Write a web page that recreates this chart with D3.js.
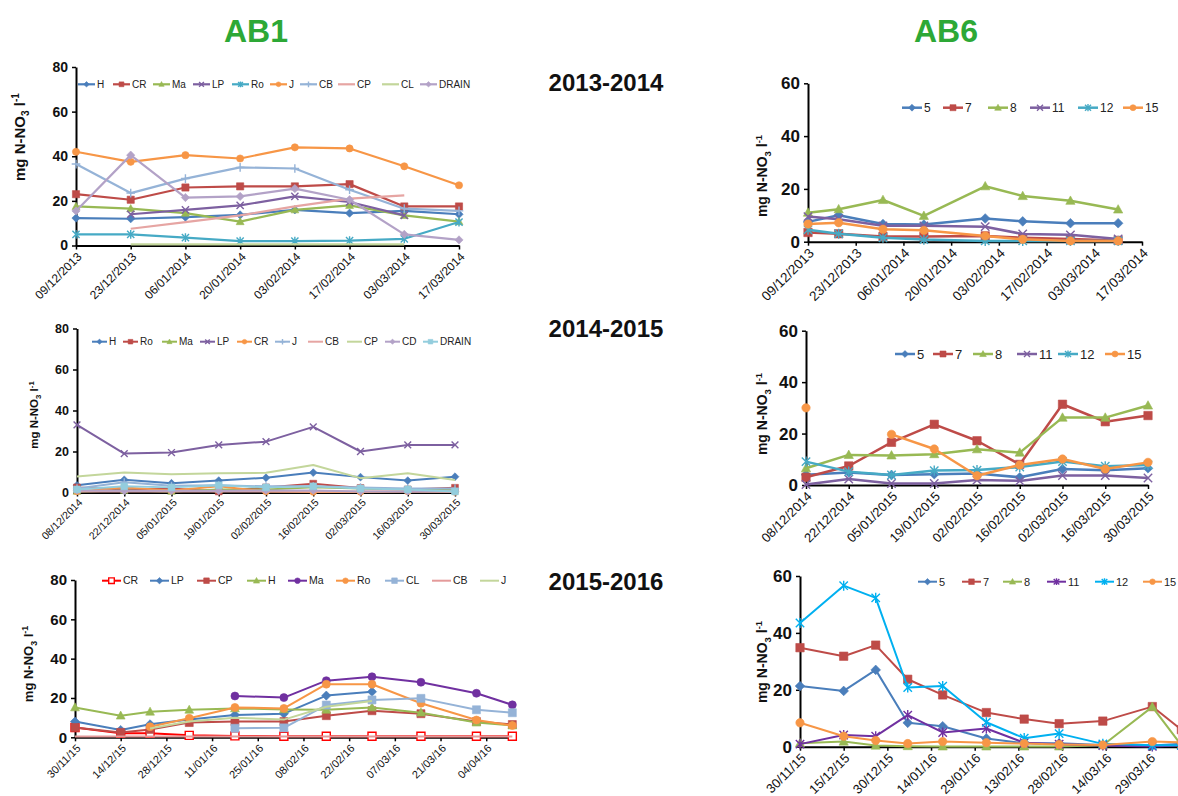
<!DOCTYPE html>
<html><head><meta charset="utf-8">
<script src="https://cdn.jsdelivr.net/npm/d3@7"></script>
<style>
html,body{margin:0;padding:0;background:#fff;}
svg{display:block;}
</style></head><body>
<svg id="chart" width="1178" height="796"></svg>
<script>
// ---------- AB1 2013-2014 ----------
const ab1a_ticks = ["09/12/2013","23/12/2013","06/01/2014","20/01/2014","03/02/2014","17/02/2014","03/03/2014","17/03/2014"];
const ab1a_dates = ["09/12/2013","23/12/2013","06/01/2014","20/01/2014","03/02/2014","17/02/2014","03/03/2014","17/03/2014"];
const ab1a_names = ["H","CR","Ma","LP","Ro","J","CB","CP","CL","DRAIN"];
const ab1a_values = [
  [12.3, 12, 12.7, 13.7, 16, 14.5, 15.5, 14],          // H
  [23, 20.5, 26, 26.5, 26.5, 27.5, 17.5, 17.5],        // CR
  [17.5, 16.5, 14.5, 10.7, 16, 18, 13.5, 10.7],        // Ma
  [null, 14, 16, 18, 22, 19.5, 13.5, null],            // LP
  [5, 5, 3.5, 2, 2, 2.2, 3, 10.5],                     // Ro
  [42, 37.5, 40.5, 39, 44, 43.5, 35.5, 27],            // J
  [36.5, 23.5, 30, 35, 34.5, 25, 16.5, 15.5],          // CB
  [null, 7.5, 10.5, 13.5, 17.5, 21, 22.5, null],       // CP
  [null, 0.5, 0.5, 0.5, 0.5, 0.5, 0.5, null],          // CL
  [15.5, 40.5, 21.5, 22, 25.5, 20.5, 5, 2.5]           // DRAIN
];

// ---------- AB6 2013-2014 ----------
const ab6a_ticks = ["09/12/2013","23/12/2013","06/01/2014","20/01/2014","03/02/2014","17/02/2014","03/03/2014","17/03/2014"];
const ab6a_dates = ["09/12/2013","18/12/2013","31/12/2013","12/01/2014","30/01/2014","10/02/2014","24/02/2014","10/03/2014"];
const ab6a_names = ["5","7","8","11","12","15"];
const ab6a_values = [
  [7.5, 10, 6.7, 6.5, 8.8, 7.7, 7, 7],                 // 5
  [3.5, 3, 2, 2, 2.2, 1.5, 1, 0.5],                    // 7
  [11, 12.3, 15.8, 9.8, 21, 17.3, 15.5, 12.2],         // 8
  [9.5, 8.5, 6, 6, 5.7, 2.9, 2.6, 1],                  // 11
  [4.5, 3, 1.5, 0.8, 0.3, 0.3, 0.3, 0.3],              // 12
  [6.7, 7.2, 4.7, 4.3, 2.2, 0.9, 0.3, 0.3]             // 15
];

// ---------- AB1 2014-2015 ----------
const ab1b_ticks = ["08/12/2014","22/12/2014","05/01/2015","19/01/2015","02/02/2015","16/02/2015","02/03/2015","16/03/2015","30/03/2015"];
const ab1b_dates = ["08/12/2014","22/12/2014","05/01/2015","19/01/2015","02/02/2015","16/02/2015","02/03/2015","16/03/2015","30/03/2015"];
const ab1b_names = ["H","Ro","Ma","LP","CR","J","CB","CP","CD","DRAIN"];
const ab1b_values = [
  [3.5, 6.2, 4.5, 5.8, 7.2, 9.7, 7.5, 5.8, 7.7],       // H
  [2.5, 1.5, 2, 0.5, 2.5, 4.3, 2.2, 1.5, 2.3],         // Ro
  [0.5, 1, 0.5, 1.5, 1.5, 2.5, 2, 1.5, 1.2],           // Ma
  [33, 19, 19.5, 23.2, 24.8, 32, 20, 23.2, 23.2],      // LP
  [0.5, 2.5, 1, 3, 0.5, 0.3, 0.3, 0.5, 0.3],           // CR
  [2, 5, 3.3, 3.5, 3, 3, 2.5, 2, 2],                   // J
  [0.5, 0.5, 0.5, 0.5, 0.5, 0.5, 0.5, 0.5, 0.5],       // CB
  [7.8, 9.8, 8.9, 9.4, 9.6, 13.4, 7, 9.4, 6.1],        // CP
  [1, 0.8, 0.8, 0.8, 1, 1, 0.5, 0.5, 0.5],             // CD
  [1.5, 3, 2.5, 3.5, 2.5, 3, 2, 1.5, 0.5]              // DRAIN
];

// ---------- AB6 2014-2015 ----------
const ab6b_ticks = ["08/12/2014","22/12/2014","05/01/2015","19/01/2015","02/02/2015","16/02/2015","02/03/2015","16/03/2015","30/03/2015"];
const ab6b_dates = ["08/12/2014","22/12/2014","05/01/2015","19/01/2015","02/02/2015","16/02/2015","02/03/2015","16/03/2015","30/03/2015"];
const ab6b_names = ["5","7","8","11","12","15"];
const ab6b_values = [
  [4, 4.9, 3.9, 4.2, 4.5, 3, 6.2, 5.7, 6.5],           // 5
  [3, 7.4, 16.6, 23.6, 17.2, 8, 31.4, 24.6, 27],       // 7
  [6.5, 11.7, 11.5, 12, 13.9, 12.6, 26.2, 26.2, 30.9], // 8
  [0.2, 2.3, 0.6, 0.6, 1.9, 1.6, 3.7, 3.7, 2.7],       // 11
  [9.1, 5.2, 3.9, 5.6, 5.8, 7, 9.1, 7.3, 7.8],         // 12
  [30, null, 19.7, 14, 3.6, 7.8, 10.1, 6.2, 8.8]       // 15
];

// ---------- AB1 2015-2016 ----------
const ab1c_ticks = ["30/11/2015","14/12/2015","28/12/2015","11/01/2016","25/01/2016","08/02/2016","22/02/2016","07/03/2016","21/03/2016","04/04/2016"];
const ab1c_dates = ["30/11/2015","14/12/2015","23/12/2015","04/01/2016","18/01/2016","02/02/2016","15/02/2016","29/02/2016","15/03/2016","01/04/2016","12/04/2016"];
const ab1c_names = ["CR","LP","CP","H","Ma","Ro","CL","CB","J"];
const ab1c_values = [
  [5, 2, 2, 1, 0.7, 0.5, 0.5, 0.5, 0.5, 0.5, 0.5],             // CR
  [8, 3.7, 6.6, 9, 11.4, 12, 21.2, 23.2, null, null, null],    // LP
  [5, 2.5, 4, 7.5, 8, 8, 11, 13.5, 12, 8, 6.5],                // CP
  [15.2, 11, 13, 14, 14.7, 14.2, 14, 15.2, 12.5, 7.5, 6],      // H
  [null, null, null, null, 21, 20.2, 28.8, 30.8, 28, 22.4, 16.5], // Ma
  [null, null, 5.4, 9.7, 15.2, 14.7, 27, 27, 17.3, 8.8, 6],    // Ro
  [null, null, null, null, 4.6, 4.8, 16.4, 19, 19.8, 14, 12.5],// CL
  [0.4, 0.4, 0.4, 0.4, 0.4, 0.4, 0.4, 0.4, 0.4, 0.4, 0.4],     // CB
  [null, null, 4.5, 8, 10, 9, 15.5, 18.5, null, null, null]    // J
];

// ---------- AB6 2015-2016 ----------
const ab6c_ticks = ["30/11/2015","15/12/2015","30/12/2015","14/01/2016","29/01/2016","13/02/2016","28/02/2016","14/03/2016","29/03/2016"];
const ab6c_dates = ["30/11/2015","15/12/2015","26/12/2015","06/01/2016","18/01/2016","02/02/2016","15/02/2016","27/02/2016","13/03/2016","30/03/2016","09/04/2016"];
const ab6c_names = ["5","7","8","11","12","15"];
const ab6c_values = [
  [21.3, 19.6, 27, 8.4, 7.2, 2.9, 1.2, 1.2, 0.6, 0.4, 1],        // 5
  [34.8, 31.8, 35.7, 23.7, 18.2, 12, 9.7, 8.1, 9, 14.1, 6],      // 7
  [1.2, 1.8, 0.4, 0.2, 0.1, 0.1, 0.1, 0.1, 0.5, 14, 0.5],        // 8
  [0.9, 4.1, 3.7, 11.1, 5, 6.4, 1.4, 0.9, 0.4, 0.1, 0.5],        // 11
  [43.5, 56.6, 52.3, 20.8, 21.3, 8.6, 3, 4.6, 1, 0.5, 0.5],      // 12
  [8.4, 3.7, 2.2, 1.1, 1.8, 1.4, 1.1, 0.8, 0.6, 1.8, 1.5]        // 15
];

const yTicks80 = [0, 20, 40, 60, 80];
const yTicks60 = [0, 20, 40, 60];

// ---------- drawing ----------
const FONT = '"Liberation Sans", Arial, Helvetica, sans-serif';
const parseDay = d3.timeParse("%d/%m/%Y");
const svg = d3.select("#chart").attr("font-family", FONT);

const C = {
  blue: "#4A7EBB", red: "#BE4B48", green: "#98B954", purple: "#7D60A0",
  aqua: "#46AAC5", orange: "#F79646", ltBlue: "#95B3D7", pink: "#E6A5A3",
  ltGreen: "#C3D69B", lavender: "#B3A2C7", ltAqua: "#93CDDD",
  brightRed: "#FF0000", violet: "#7030A0", sky: "#00B0F0", rose: "#E49A9A"
};

function markerPath(type, s) {
  switch (type) {
    case "diamond": return `M0,${-s * 1.15}L${s * 1.15},0L0,${s * 1.15}L${-s * 1.15},0Z`;
    case "square":
    case "squareOpen": return `M${-s},${-s}H${s}V${s}H${-s}Z`;
    case "triangle": return `M0,${-s * 1.15}L${s * 1.1},${s * 0.85}L${-s * 1.1},${s * 0.85}Z`;
    case "circle": return d3.symbol(d3.symbolCircle, Math.PI * s * s)();
    case "x": return `M${-s},${-s}L${s},${s}M${-s},${s}L${s},${-s}`;
    case "star": return `M${-s},${-s}L${s},${s}M${-s},${s}L${s},${-s}M0,${-s * 1.2}V${s * 1.2}`;
    case "plus": return `M${-s * 1.2},0H${s * 1.2}M0,${-s * 1.2}V${s * 1.2}`;
  }
  return "";
}
const strokeMarker = t => t === "x" || t === "star" || t === "plus";

function drawMarker(sel, type, color, s) {
  if (!type) return sel;
  const p = sel.append("path").attr("d", markerPath(type, s));
  if (strokeMarker(type)) p.attr("fill", "none").attr("stroke", color).attr("stroke-width", 1.4);
  else if (type === "squareOpen") p.attr("fill", "#fff").attr("stroke", color).attr("stroke-width", 1.4);
  else p.attr("fill", color).attr("stroke", color).attr("stroke-width", 0.6);
  return p;
}

function drawPanel(p) {
  const g = svg.append("g");
  const x = d3.scaleTime().domain(p.domain.map(parseDay)).range([p.x0, p.x1]);
  const y = d3.scaleLinear().domain([0, p.ymax]).range([p.y0, p.y1]);

  // x axis with rotated date labels
  const xa = g.append("g").attr("transform", `translate(0,${p.y0})`)
    .call(d3.axisBottom(x).tickValues(p.ticks.map(parseDay))
      .tickFormat(d3.timeFormat(p.fmt)).tickSize(4).tickSizeOuter(0));
  xa.select(".domain").attr("stroke", "#000").attr("stroke-width", 2);
  xa.selectAll(".tick line").attr("stroke", "#000").attr("stroke-width", 1.5);
  xa.selectAll(".tick text")
    .attr("font-family", FONT).attr("font-size", p.xfs).attr("fill", "#111")
    .attr("text-anchor", "end").attr("x", 0).attr("y", 0).attr("dy", "0.35em")
    .attr("transform", `translate(${p.xdx},${p.xdy}) rotate(-45)`);

  // y axis
  const ya = g.append("g").attr("transform", `translate(${p.x0},0)`)
    .call(d3.axisLeft(y).tickValues(p.yticks).tickSize(4).tickSizeOuter(0));
  ya.select(".domain").attr("stroke", "#000").attr("stroke-width", 2);
  ya.selectAll(".tick line").attr("stroke", "#000").attr("stroke-width", 1.5);
  ya.selectAll(".tick text")
    .attr("font-family", FONT).attr("font-size", p.yfs).attr("font-weight", "bold")
    .attr("fill", "#111").attr("x", -8);

  // y axis title: mg N-NO3 l-1
  const t = g.append("text")
    .attr("transform", `translate(${p.tx},${p.ty}) rotate(-90)`)
    .attr("text-anchor", "middle").attr("font-size", p.tfs).attr("font-weight", "bold").attr("fill", "#111");
  t.append("tspan").text("mg N-NO");
  t.append("tspan").text("3").attr("font-size", p.tfs * 0.68).attr("dy", p.tfs * 0.28);
  t.append("tspan").text(" l").attr("dy", -p.tfs * 0.28);
  t.append("tspan").text("-1").attr("font-size", p.tfs * 0.68).attr("dy", -p.tfs * 0.38);

  const dates = p.dates.map(parseDay);
  const line = d3.line()
    .defined(d => d.v != null)
    .x(d => x(d.t)).y(d => y(d.v));

  // series, first one at the back
  p.values.forEach((vals, i) => {
    const st = p.styles[i];
    const pts = vals.map((v, k) => ({ t: dates[k], v }));
    g.append("path").datum(pts).attr("d", line)
      .attr("fill", "none").attr("stroke", st.c).attr("stroke-width", st.w || p.lw)
      .attr("stroke-linejoin", "round");
    if (st.m) {
      pts.filter(d => d.v != null).forEach(d => {
        const mg = g.append("g").attr("transform", `translate(${x(d.t)},${y(d.v)})`);
        drawMarker(mg, st.m, st.c, p.ms);
      });
    }
  });

  // legend
  p.names.forEach((name, i) => {
    const st = p.styles[i];
    const lx = p.legX[i];
    const lg = g.append("g");
    lg.append("line").attr("x1", lx).attr("x2", lx + p.legLen)
      .attr("y1", p.legY).attr("y2", p.legY)
      .attr("stroke", st.c).attr("stroke-width", st.w || p.lw);
    if (st.m) {
      const mg = lg.append("g").attr("transform", `translate(${lx + p.legLen / 2},${p.legY})`);
      drawMarker(mg, st.m, st.c, p.legMs);
    }
    lg.append("text").attr("x", lx + p.legLen + 2).attr("y", p.legY).attr("dy", "0.36em")
      .attr("font-size", p.legFs).attr("fill", "#222").text(name);
  });
}

// series styles (colour, marker)
const ab1aStyles = [
  { c: C.blue, m: "diamond" }, { c: C.red, m: "square" }, { c: C.green, m: "triangle" },
  { c: C.purple, m: "x" }, { c: C.aqua, m: "star" }, { c: C.orange, m: "circle" },
  { c: C.ltBlue, m: "plus" }, { c: C.pink, m: null }, { c: C.ltGreen, m: null },
  { c: C.lavender, m: "diamond" }
];
const ab6Styles = [
  { c: C.blue, m: "diamond" }, { c: C.red, m: "square" }, { c: C.green, m: "triangle" },
  { c: C.purple, m: "x" }, { c: C.aqua, m: "star" }, { c: C.orange, m: "circle" }
];
const ab1bStyles = [
  { c: C.blue, m: "diamond" }, { c: C.red, m: "square" }, { c: C.green, m: "triangle" },
  { c: C.purple, m: "x" }, { c: C.orange, m: "circle" }, { c: C.ltBlue, m: "plus" },
  { c: C.pink, m: null }, { c: C.ltGreen, m: null }, { c: C.lavender, m: "diamond" },
  { c: C.ltAqua, m: "square" }
];
const ab1cStyles = [
  { c: C.brightRed, m: "squareOpen" }, { c: C.blue, m: "diamond" }, { c: C.red, m: "square" },
  { c: C.green, m: "triangle" }, { c: C.violet, m: "circle" }, { c: C.orange, m: "circle" },
  { c: C.ltBlue, m: "square" }, { c: C.rose, m: null }, { c: C.ltGreen, m: null }
];
const ab6cStyles = [
  { c: C.blue, m: "diamond" }, { c: C.red, m: "square" }, { c: C.green, m: "triangle" },
  { c: C.violet, m: "star" }, { c: C.sky, m: "star" }, { c: C.orange, m: "circle" }
];

// headings
svg.append("text").attr("x", 256).attr("y", 42).attr("text-anchor", "middle")
  .attr("font-size", 32).attr("font-weight", "bold").attr("fill", "#2DA836").text("AB1");
svg.append("text").attr("x", 946).attr("y", 42).attr("text-anchor", "middle")
  .attr("font-size", 32).attr("font-weight", "bold").attr("fill", "#2DA836").text("AB6");
[["2013-2014", 91], ["2014-2015", 337], ["2015-2016", 590]].forEach(([s, yy]) => {
  svg.append("text").attr("x", 606).attr("y", yy).attr("text-anchor", "middle")
    .attr("font-size", 24).attr("font-weight", "bold").attr("fill", "#111").text(s);
});

drawPanel({
  domain: ["09/12/2013", "17/03/2014"], x0: 76, x1: 459, y0: 245.5, y1: 67, ymax: 80, yticks: yTicks80,
  ticks: ab1a_ticks, dates: ab1a_dates, names: ab1a_names, values: ab1a_values, styles: ab1aStyles,
  fmt: "%d/%m/%Y", xfs: 12, xdx: 3, xdy: 9, yfs: 14, tx: 25, ty: 137, tfs: 15, lw: 2.2, ms: 3.6,
  legY: 84.3, legLen: 17, legMs: 2.4, legFs: 10,
  legX: [78, 113, 153, 193, 232, 270, 300, 338, 382, 420]
});
drawPanel({
  domain: ["09/12/2013", "17/03/2014"], x0: 808, x1: 1142, y0: 241.7, y1: 83.3, ymax: 60, yticks: yTicks60,
  ticks: ab6a_ticks, dates: ab6a_dates, names: ab6a_names, values: ab6a_values, styles: ab6Styles,
  fmt: "%d/%m/%Y", xfs: 13.5, xdx: 3, xdy: 9, yfs: 17, tx: 767, ty: 176, tfs: 14, lw: 2.5, ms: 4.2,
  legY: 107.7, legLen: 20, legMs: 3, legFs: 12,
  legX: [902, 943, 988, 1030, 1078, 1123]
});
drawPanel({
  domain: ["08/12/2014", "30/03/2015"], x0: 77, x1: 455, y0: 492.5, y1: 328.5, ymax: 80, yticks: yTicks80,
  ticks: ab1b_ticks, dates: ab1b_dates, names: ab1b_names, values: ab1b_values, styles: ab1bStyles,
  fmt: "%d/%m/%Y", xfs: 10.5, xdx: 3, xdy: 8, yfs: 12.5, tx: 38, ty: 415, tfs: 11.5, lw: 2, ms: 3.4,
  legY: 341.7, legLen: 15, legMs: 2.3, legFs: 10,
  legX: [92, 123, 162, 200, 237, 275, 308, 347, 385, 423]
});
drawPanel({
  domain: ["08/12/2014", "30/03/2015"], x0: 806, x1: 1148, y0: 485, y1: 330.7, ymax: 60, yticks: yTicks60,
  ticks: ab6b_ticks, dates: ab6b_dates, names: ab6b_names, values: ab6b_values, styles: ab6Styles,
  fmt: "%d/%m/%Y", xfs: 13, xdx: 3, xdy: 9, yfs: 17, tx: 767, ty: 414, tfs: 14, lw: 2.5, ms: 4.2,
  legY: 354, legLen: 20, legMs: 3, legFs: 13,
  legX: [895, 933, 973, 1017, 1058, 1105]
});
drawPanel({
  domain: ["30/11/2015", "13/04/2016"], x0: 75, x1: 515.6, y0: 737.3, y1: 580, ymax: 80, yticks: yTicks80,
  ticks: ab1c_ticks, dates: ab1c_dates, names: ab1c_names, values: ab1c_values, styles: ab1cStyles,
  fmt: "%d/%m/%y", xfs: 11, xdx: 3, xdy: 9, yfs: 15, tx: 33, ty: 664, tfs: 13, lw: 2, ms: 4,
  legY: 580.7, legLen: 19, legMs: 2.8, legFs: 10.5,
  legX: [102, 150, 197, 247, 288, 336, 385, 432, 480]
});
drawPanel({
  domain: ["30/11/2015", "14/04/2016"], x0: 800, x1: 1196, y0: 746.7, y1: 576, ymax: 60, yticks: yTicks60,
  ticks: ab6c_ticks, dates: ab6c_dates, names: ab6c_names, values: ab6c_values, styles: ab6cStyles,
  fmt: "%d/%m/%y", xfs: 13, xdx: 3, xdy: 9, yfs: 17, tx: 767, ty: 662, tfs: 14, lw: 2, ms: 4.2,
  legY: 581.7, legLen: 19, legMs: 2.8, legFs: 11,
  legX: [918, 962, 1003, 1047, 1095, 1143]
});
</script>
</body></html>
